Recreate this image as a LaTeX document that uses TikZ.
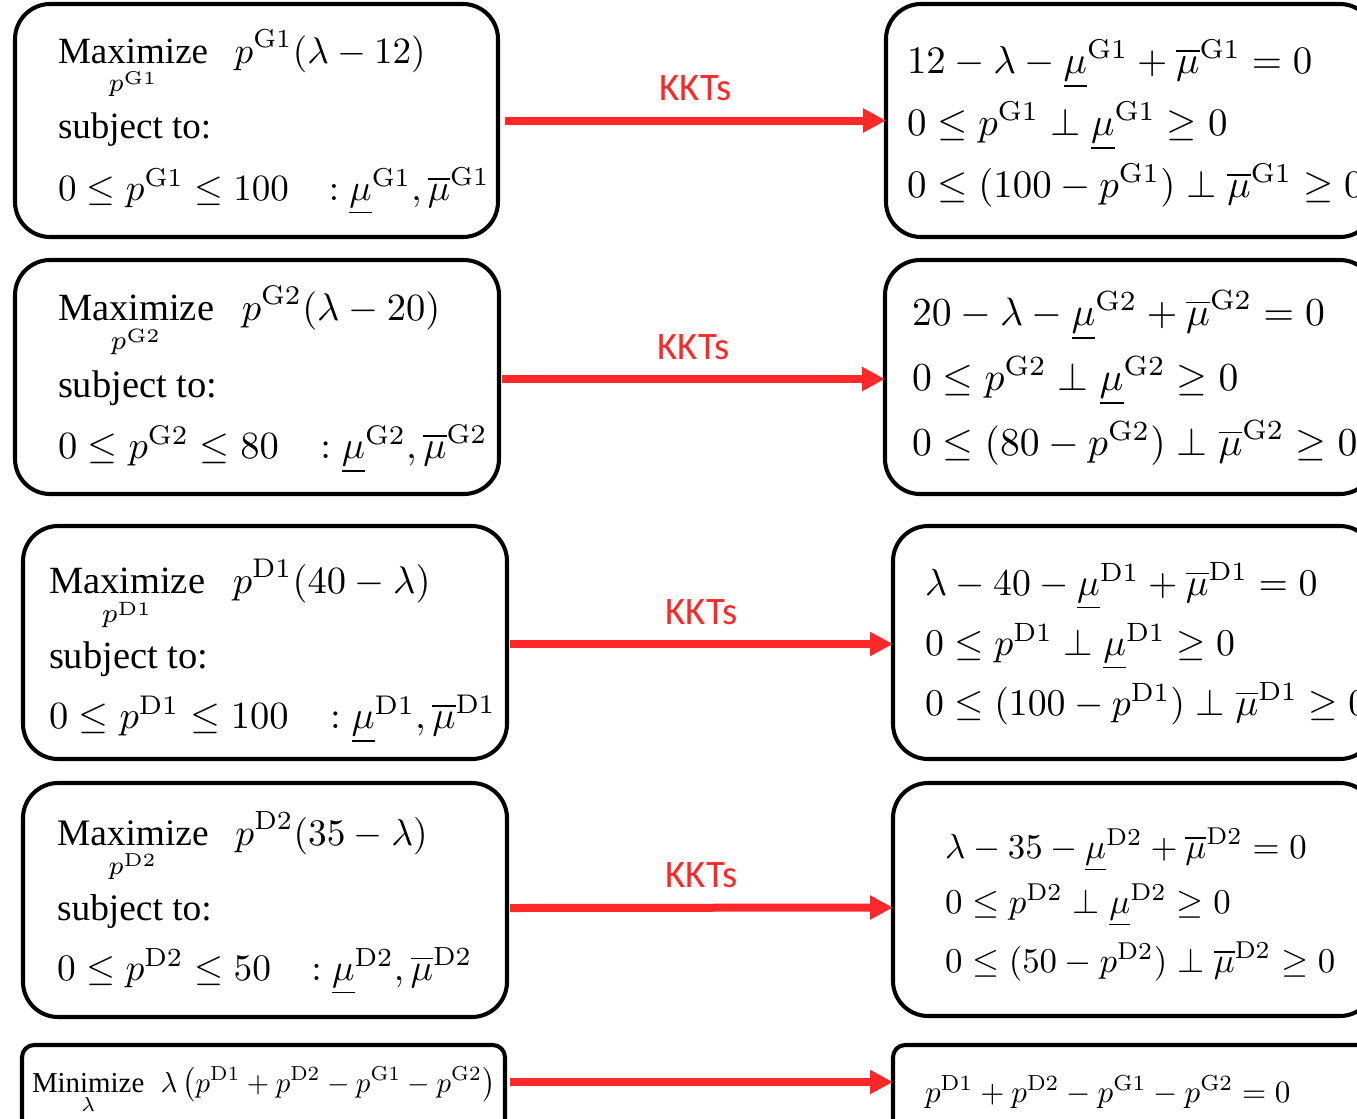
\documentclass[tikz,border=0pt]{standalone}
\usepackage[no-math]{fontspec}
\setmainfont{Liberation Serif}
\newfontfamily\kktfont{Carlito}
\usetikzlibrary{arrows.meta,calc,fit}
\definecolor{kred}{RGB}{255,40,40}
\newcommand{\undersub}[1]{\rule{0pt}{6pt}#1}
\begin{document}
\begin{tikzpicture}[x=0.27pt,y=-0.27pt,
  box/.style={draw=black,line width=1.1pt,rounded corners=9.5pt,fill=white,inner sep=0pt,outer sep=0pt},
  sbox/.style={box,rounded corners=3.3pt},
  txt/.style={anchor=base west,inner sep=0pt,outer sep=0pt},
  kkt/.style={draw=kred,line width=2.16pt,-{Triangle[length=6.2pt,width=6.2pt]}},
  lbl/.style={text=kred,font=\kktfont\fontsize{10.5}{12}\selectfont,inner sep=0pt}]
\useasboundingbox (0,0) rectangle (1357,1118);
\fill[white] (0,0) rectangle (1357,1118);
\clip (0,0) rectangle (1357,1118);

% boxes
\node[box,fit={(15,4) (498,237)}] (L1) {};
\node[box,fit={(15,260) (499,494)}] (L2) {};
\node[box,fit={(23,526) (507,759)}] (L3) {};
\node[box,fit={(23,783) (507,1017)}] (L4) {};
\node[sbox,fit={(22,1045) (505,1160)}] (L5) {};
\node[box,fit={(886,4) (1375,237)}] (R1) {};
\node[box,fit={(885,260) (1375,494)}] (R2) {};
\node[box,fit={(893,526) (1375,759)}] (R3) {};
\node[box,fit={(893,783) (1375,1016)}] (R4) {};
\node[sbox,fit={(893,1045) (1375,1160)}] (R5) {};

% left texts
\node[txt] (L1a) at (58,63) {$\displaystyle\mathop{\mbox{Maximize}}\limits_{\undersub{p^{\mathrm{G1}}}}\hspace{5.5pt}p^{\mathrm{G1}}(\lambda-12)$};
\node[txt] (L1b) at (58,138) {subject to:};
\node[txt] (L1c) at (58,200) {$0\le p^{\mathrm{G1}}\le 100\hspace{8pt}:\underline{\mu}^{\mathrm{G1}},\overline{\mu}^{\mathrm{G1}}$};

\node[txt,scale=1.04] (L2a) at (58,320) {$\displaystyle\mathop{\mbox{Maximize}}\limits_{\undersub{p^{\mathrm{G2}}}}\hspace{5.5pt}p^{\mathrm{G2}}(\lambda-20)$};
\node[txt,scale=1.04] (L2b) at (58,397) {subject to:};
\node[txt,scale=1.04] (L2c) at (58,458) {$0\le p^{\mathrm{G2}}\le 80\hspace{8pt}:\underline{\mu}^{\mathrm{G2}},\overline{\mu}^{\mathrm{G2}}$};

\node[txt,scale=1.04] (L3a) at (49,593) {$\displaystyle\mathop{\mbox{Maximize}}\limits_{\undersub{p^{\mathrm{D1}}}}\hspace{5.5pt}p^{\mathrm{D1}}(40-\lambda)$};
\node[txt,scale=1.04] (L3b) at (49,668) {subject to:};
\node[txt,scale=1.04] (L3c) at (49,728) {$0\le p^{\mathrm{D1}}\le 100\hspace{8pt}:\underline{\mu}^{\mathrm{D1}},\overline{\mu}^{\mathrm{D1}}$};

\node[txt,scale=1.01] (L4a) at (57,845) {$\displaystyle\mathop{\mbox{Maximize}}\limits_{\undersub{p^{\mathrm{D2}}}}\hspace{5.5pt}p^{\mathrm{D2}}(35-\lambda)$};
\node[txt,scale=1.01] (L4b) at (57,920) {subject to:};
\node[txt,scale=1.01] (L4c) at (57,980) {$0\le p^{\mathrm{D2}}\le 50\hspace{8pt}:\underline{\mu}^{\mathrm{D2}},\overline{\mu}^{\mathrm{D2}}$};

\node[txt,scale=0.78] (L5a) at (32,1092) {$\displaystyle\mathop{\mbox{Minimize}}\limits_{\lambda}\hspace{4pt}\lambda\left(p^{\mathrm{D1}}+p^{\mathrm{D2}}-p^{\mathrm{G1}}-p^{\mathrm{G2}}\right)$};

% right texts
\node[txt,scale=1.05] (R1a) at (907,73) {$12-\lambda-\underline{\mu}^{\mathrm{G1}}+\overline{\mu}^{\mathrm{G1}}=0$};
\node[txt,scale=1.05] (R1b) at (907,135) {$0\le p^{\mathrm{G1}}\perp\underline{\mu}^{\mathrm{G1}}\ge 0$};
\node[txt,scale=1.05] (R1c) at (907,197) {$0\le(100-p^{\mathrm{G1}})\perp\overline{\mu}^{\mathrm{G1}}\ge 0$};

\node[txt,scale=1.07] (R2a) at (912,325) {$20-\lambda-\underline{\mu}^{\mathrm{G2}}+\overline{\mu}^{\mathrm{G2}}=0$};
\node[txt,scale=1.07] (R2b) at (912,390) {$0\le p^{\mathrm{G2}}\perp\underline{\mu}^{\mathrm{G2}}\ge 0$};
\node[txt,scale=1.07] (R2c) at (912,455) {$0\le(80-p^{\mathrm{G2}})\perp\overline{\mu}^{\mathrm{G2}}\ge 0$};

\node[txt,scale=1.02] (R3a) at (925,595) {$\lambda-40-\underline{\mu}^{\mathrm{D1}}+\overline{\mu}^{\mathrm{D1}}=0$};
\node[txt,scale=1.02] (R3b) at (925,655) {$0\le p^{\mathrm{D1}}\perp\underline{\mu}^{\mathrm{D1}}\ge 0$};
\node[txt,scale=1.02] (R3c) at (925,715) {$0\le(100-p^{\mathrm{D1}})\perp\overline{\mu}^{\mathrm{D1}}\ge 0$};

\node[txt,scale=0.94] (R4a) at (945,858) {$\lambda-35-\underline{\mu}^{\mathrm{D2}}+\overline{\mu}^{\mathrm{D2}}=0$};
\node[txt,scale=0.94] (R4b) at (945,913) {$0\le p^{\mathrm{D2}}\perp\underline{\mu}^{\mathrm{D2}}\ge 0$};
\node[txt,scale=0.94] (R4c) at (945,972) {$0\le(50-p^{\mathrm{D2}})\perp\overline{\mu}^{\mathrm{D2}}\ge 0$};

\node[txt,scale=0.84] (R5a) at (925,1102) {$p^{\mathrm{D1}}+p^{\mathrm{D2}}-p^{\mathrm{G1}}-p^{\mathrm{G2}}=0$};

% arrows
\draw[kkt] ($(L1.east)+(7,0)$) -- (R1.west) node[lbl,midway,above=4.2pt] (K1) {KKTs};
\draw[kkt] ($(L2.east)+(3,2)$) -- ($(R2.west)+(0,2)$) node[lbl,midway,above=4.2pt] (K2) {KKTs};
\draw[kkt] ($(L3.east)+(3,1.5)$) -- ($(R3.west)+(0,1.5)$) node[lbl,midway,above=4.2pt] (K3) {KKTs};
\draw[kkt] ($(L4.east)+(3,8)$) -- ($(R4.west)+(0,8)$) node[lbl,midway,above=4.2pt] (K4) {KKTs};
\draw[kkt] ($(L5.east)+(5,-20.5)$) -- ($(R5.west)+(0,-20.5)$);
\end{tikzpicture}
\end{document}
